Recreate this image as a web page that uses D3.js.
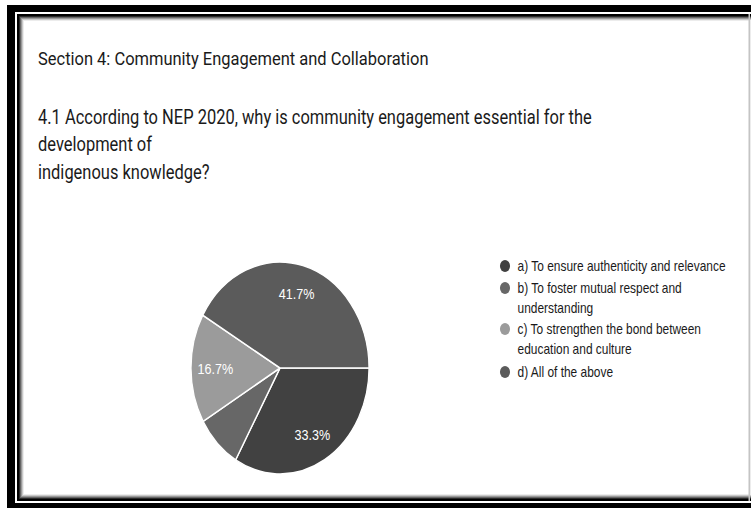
<!DOCTYPE html>
<html>
<head>
<meta charset="utf-8">
<script src="https://cdn.jsdelivr.net/npm/d3@7"></script>
<style>
  html, body { margin: 0; padding: 0; background: #fff; }
  svg { display: block; }
</style>
</head>
<body>
<svg id="chart" width="751" height="508"></svg>
<script>
// Survey question text
const sectionTitle = "Section 4: Community Engagement and Collaboration";
const questionLines = [
  "4.1 According to NEP 2020, why is community engagement essential for the",
  "development of",
  "indigenous knowledge?"
];

// Answer options (legend wraps long ones onto two lines)
const categories = ["a", "b", "c", "d"];
const legendLines = [
  ["a) To ensure authenticity and relevance"],
  ["b) To foster mutual respect and", "understanding"],
  ["c) To strengthen the bond between", "education and culture"],
  ["d) All of the above"]
];

// Share of responses per option (percent)
const shares = [33.3, 8.3, 16.7, 41.7];
const sliceColors = ["#414141", "#676767", "#9b9b9b", "#5b5b5b"];

const svg = d3.select("#chart");
const W = 751, H = 508;

// ---- framed card ----
const frame = svg.append("g");
frame.append("rect").attr("x", 7).attr("y", 5).attr("width", W).attr("height", H).attr("fill", "#000");
frame.append("rect").attr("x", 15).attr("y", 12).attr("width", W).attr("height", 491).attr("fill", "#fff");
frame.append("rect").attr("x", 17).attr("y", 14).attr("width", W).attr("height", 487).attr("fill", "#000");
// soft inner shadow inside the thin frame line
const shadeSteps = ["#2a2a2a", "#666", "#999", "#c8c8c8", "#ececec"];
shadeSteps.forEach((c, i) => {
  frame.append("rect")
    .attr("x", 19 + i).attr("y", 16 + i)
    .attr("width", W).attr("height", 483 - i * 2)
    .attr("fill", c);
});
frame.append("rect").attr("x", 24).attr("y", 21).attr("width", 725).attr("height", 473).attr("fill", "#fff");
frame.append("rect").attr("x", 748.5).attr("y", 14).attr("width", 1.5).attr("height", 487).attr("fill", "#c4c4c4");

// ---- headings ----
const sx = 0.84; // horizontal compression of the card

svg.append("g")
  .attr("transform", "translate(38,0) scale(0.915,1)")
  .append("text")
  .attr("x", 0).attr("y", 65)
  .attr("font-family", "Roboto, sans-serif")
  .attr("font-size", 18)
  .attr("fill", "#1a1a1a")
  .text(sectionTitle);

svg.append("g")
  .attr("transform", `translate(38,0) scale(${sx},1)`)
  .selectAll("text.q")
  .data(questionLines)
  .join("text")
  .attr("class", "q")
  .attr("x", 0)
  .attr("y", (d, i) => 124 + i * 27.5)
  .attr("font-family", "Roboto, sans-serif")
  .attr("font-size", 19.6)
  .attr("fill", "#1a1a1a")
  .text(d => d);

// ---- pie ----
const ry = 106;
const pie = d3.pie()
  .value(d => d.value)
  .sort(null)
  .startAngle(Math.PI / 2)
  .endAngle(Math.PI / 2 + 2 * Math.PI);

const data = categories.map((c, i) => ({ key: c, value: shares[i], color: sliceColors[i] }));
const arcs = pie(data);

const arc = d3.arc().innerRadius(0).outerRadius(ry);
const labelArc = d3.arc().innerRadius(77).outerRadius(77);

const pg = svg.append("g").attr("transform", `translate(280,368) scale(${sx},1)`);
pg.selectAll("path")
  .data(arcs)
  .join("path")
  .attr("d", arc)
  .attr("fill", d => d.data.color)
  .attr("stroke", "#fff")
  .attr("stroke-width", 1.6);

pg.selectAll("text")
  .data(arcs.filter(d => d.data.value >= 10))
  .join("text")
  .attr("transform", d => `translate(${labelArc.centroid(d)})`)
  .attr("text-anchor", "middle")
  .attr("dy", "0.36em")
  .attr("font-family", "Arial, 'Liberation Sans', sans-serif")
  .attr("font-size", 15)
  .attr("fill", "#fff")
  .text(d => d.data.value.toFixed(1) + "%");

// ---- legend ----
const legendTop = [266, 288, 329, 372];
const lg = svg.append("g").attr("transform", `translate(505,0) scale(${sx},1)`);
const items = lg.selectAll("g.item")
  .data(categories.map((c, i) => ({ lines: legendLines[i], color: sliceColors[i], y: legendTop[i] })))
  .join("g")
  .attr("class", "item")
  .attr("transform", d => `translate(0,${d.y})`);

items.append("circle")
  .attr("cx", 0).attr("cy", 0).attr("r", 6)
  .attr("fill", d => d.color);

items.each(function(d) {
  d3.select(this).selectAll("text")
    .data(d.lines)
    .join("text")
    .attr("x", 15)
    .attr("y", (t, i) => i * 19.5)
    .attr("dy", "0.36em")
    .attr("font-family", "Arial, 'Liberation Sans', sans-serif")
    .attr("font-size", 14.2)
    .attr("fill", "#1a1a1a")
    .text(t => t);
});
</script>
</body>
</html>
